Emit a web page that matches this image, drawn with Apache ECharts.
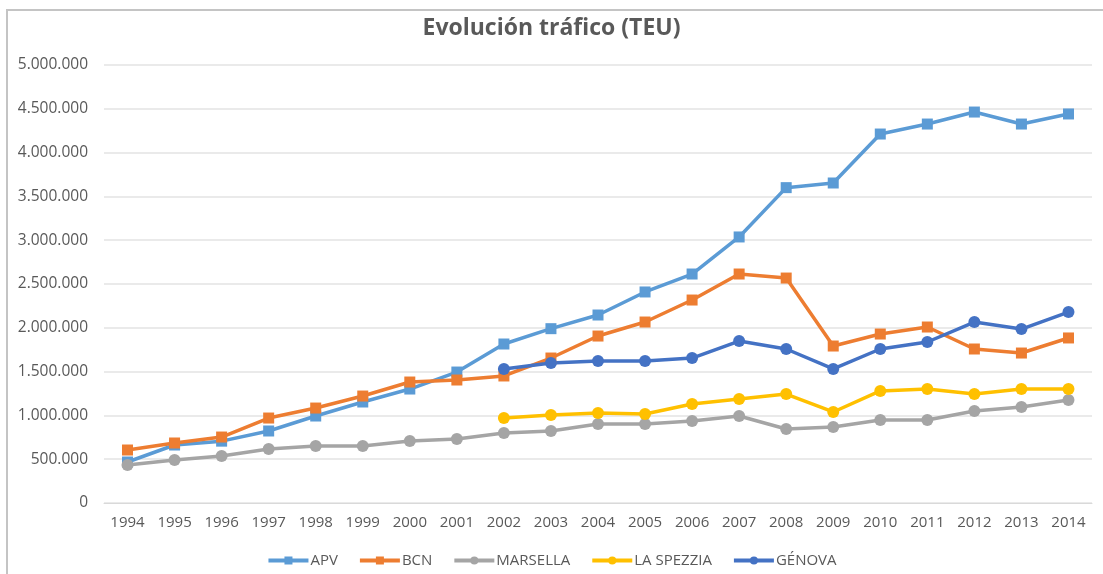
<!DOCTYPE html>
<html>
<head>
<meta charset="utf-8">
<script src="https://cdn.jsdelivr.net/npm/echarts@6/dist/echarts.min.js"></script>
<style>
  html, body { margin: 0; padding: 0; background: #fff; }
  #chart { width: 1103px; height: 574px; }
</style>
</head>
<body>
<div id="chart"></div>
<script>
// años
var years = ["1994", "1995", "1996", "1997", "1998", "1999", "2000", "2001", "2002", "2003", "2004",
  "2005", "2006", "2007", "2008", "2009", "2010", "2011", "2012", "2013", "2014"];

// TEU por puerto
var apv = [468000, 662000, 706000, 822000, 993000, 1153000, 1301000, 1495000, 1815000, 1990000, 2146000,
  2409000, 2614000, 3037000, 3600000, 3653000, 4212000, 4326000, 4463000, 4326000, 4441000];
var bcn = [605000, 685000, 753000, 970000, 1084000, 1221000, 1381000, 1404000, 1450000, 1655000, 1906000,
  2066000, 2317000, 2614000, 2568000, 1792000, 1929000, 2009000, 1758000, 1712000, 1884000];
var marsella = [434000, 491000, 537000, 616000, 651000, 651000, 708000, 731000, 799000, 822000, 902000,
  902000, 936000, 993000, 845000, 868000, 947000, 947000, 1050000, 1096000, 1176000];
var laSpezzia = [null, null, null, null, null, null, null, null, 970000, 1005000, 1027000,
  1016000, 1130000, 1187000, 1244000, 1039000, 1279000, 1301000, 1244000, 1301000, 1301000];
var genova = [null, null, null, null, null, null, null, null, 1530000, 1598000, 1621000,
  1621000, 1655000, 1849000, 1758000, 1530000, 1758000, 1838000, 2066000, 1986000, 2180000];

(function () {
  var myChart = echarts.init(document.getElementById('chart'));

  function serie(name, data, color, symbol) {
    return {
      name: name,
      type: "line",
      data: data,
      symbol: symbol,
      symbolSize: symbol === "rect" ? 11 : 12,
      showAllSymbol: true,
      connectNulls: false,
      lineStyle: { width: 3.5, color: color },
      itemStyle: { color: color },
      emphasis: { disabled: true }
    };
  }

  var option = {
    animation: false,
    color: ["#5B9BD5", "#ED7D31", "#A5A5A5", "#FFC000", "#4472C4"],
    title: {
      text: "Evolución tráfico (TEU)",
      left: "center",
      top: 12,
      textStyle: {
        fontFamily: "Open Sans",
        fontSize: 23,
        fontWeight: "bold",
        color: "#595959"
      }
    },
    // marco del gráfico
    graphic: [
      {
        type: "rect",
        shape: { x: 7, y: 10, width: 1200, height: 700 },
        style: { fill: "none", stroke: "#c4c4c4", lineWidth: 2 },
        silent: true
      }
    ],
    legend: {
      bottom: 1,
      left: "center",
      itemWidth: 40,
      itemHeight: 10,
      itemGap: 20,
      lineStyle: { width: 4 },
      textStyle: { fontFamily: "Open Sans", fontSize: 15, color: "#595959", padding: [0, 0, 0, -3] }
    },
    grid: {
      left: 104,
      right: 11,
      top: 65,
      bottom: 71
    },
    xAxis: {
      type: "category",
      data: years,
      boundaryGap: true,
      axisTick: { show: false },
      axisLine: { lineStyle: { color: "#d9d9d9" } },
      axisLabel: {
        color: "#595959",
        fontFamily: "Open Sans",
        fontSize: 15,
        margin: 12
      }
    },
    yAxis: {
      type: "value",
      min: 0,
      max: 5000000,
      interval: 500000,
      axisLine: { show: false },
      axisTick: { show: false },
      axisLabel: {
        color: "#595959",
        fontFamily: "Open Sans",
        fontSize: 15.5,
        margin: 16,
        formatter: function (v) {
          return String(v).replace(/\B(?=(\d{3})+(?!\d))/g, ".");
        }
      },
      splitLine: { lineStyle: { color: "#e3e3e3", width: 1.5 } }
    },
    series: [
      serie("APV", apv, "#5B9BD5", "rect"),
      serie("BCN", bcn, "#ED7D31", "rect"),
      serie("MARSELLA", marsella, "#A5A5A5", "circle"),
      serie("LA SPEZZIA", laSpezzia, "#FFC000", "circle"),
      serie("GÉNOVA", genova, "#4472C4", "circle")
    ]
  };

  myChart.setOption(option);
})();
</script>
</body>
</html>
